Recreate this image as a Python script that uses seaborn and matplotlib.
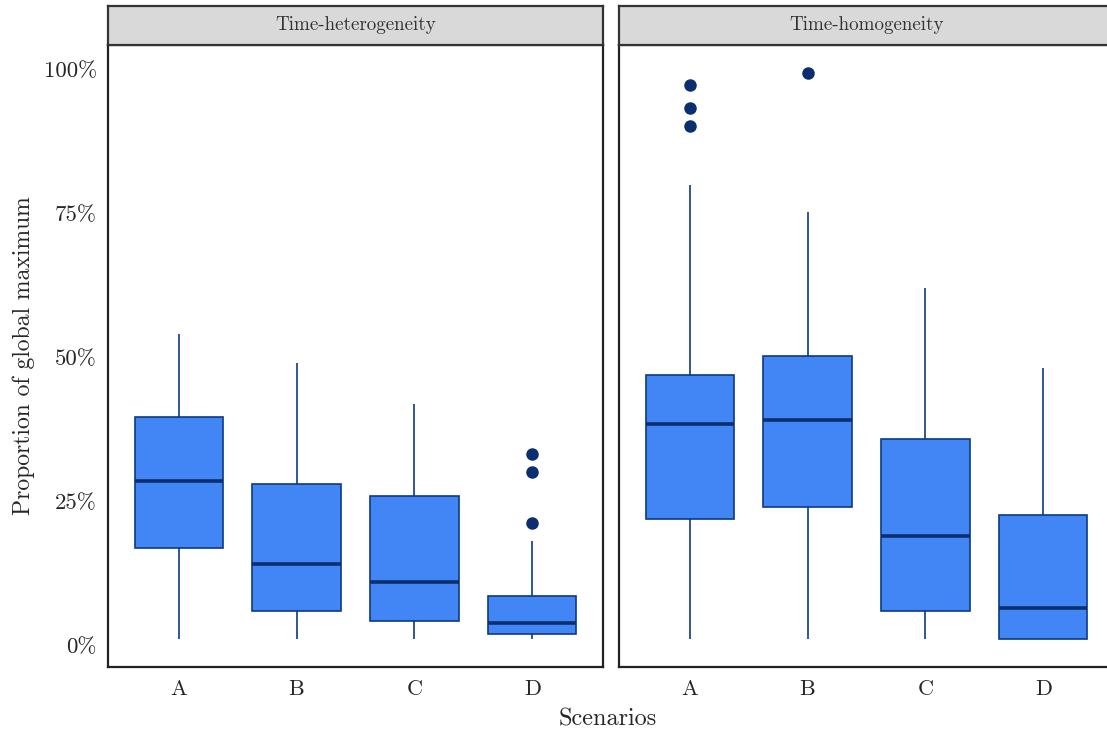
import matplotlib
matplotlib.use("Agg")
import matplotlib.pyplot as plt
import seaborn as sns
import pandas as pd

# Box summaries (percent of global maximum)
scenarios = ["A", "B", "C", "D"]
panels = ["Time-heterogeneity", "Time-homogeneity"]

het_low = [1.2, 1.2, 1.2, 1.2]
het_q1 = [17.0, 6.1, 4.3, 2.1]
het_med = [28.5, 14.1, 11.1, 4.0]
het_q3 = [39.6, 28.0, 25.9, 8.7]
het_high = [54.0, 49.1, 42.0, 18.1]
het_out = [[], [], [], [21.2, 30.2, 33.2]]

hom_low = [1.2, 1.2, 1.2, 1.2]
hom_q1 = [22.0, 24.1, 6.1, 1.2]
hom_med = [38.5, 39.1, 19.1, 6.6]
hom_q3 = [46.9, 50.2, 35.9, 22.6]
hom_high = [80.0, 75.2, 62.0, 48.1]
hom_out = [[90.1, 93.2, 97.2], [99.3], [], []]

fill = "#4285F4"
edge = "#0D3A84"
dark = "#0B2F6E"


def box_rows(panel, low, q1, med, q3, high, out):
    # 17 sorted values per box: quartiles land exactly on indices 4, 8, 12
    rows = []
    for i, s in enumerate(scenarios):
        top = [high[i]] * (4 - len(out[i])) + out[i]
        vals = [low[i]] + [q1[i]] * 4 + [med[i]] * 4 + [q3[i]] * 4 + top
        rows += [(panel, s, v) for v in vals]
    return rows


rows = box_rows(panels[0], het_low, het_q1, het_med, het_q3, het_high, het_out)
rows += box_rows(panels[1], hom_low, hom_q1, hom_med, hom_q3, hom_high, hom_out)
df = pd.DataFrame(rows, columns=["panel", "scenario", "value"])

sns.set_style("white")
plt.rcParams["font.family"] = ["cmr10", "DejaVu Serif"]
plt.rcParams["axes.formatter.use_mathtext"] = True
plt.rcParams["mathtext.fontset"] = "cm"

W, H = 1107, 732
fig = plt.figure(figsize=(W / 100, H / 100), dpi=100)

# second panel runs past the right edge, as in the reference
panel_x = [(108, 603), (619, 1114)]
top_px, bot_px, strip_top = 45, 667, 6

for k, (name, (x0, x1)) in enumerate(zip(panels, panel_x)):
    ax = fig.add_axes([x0 / W, 1 - bot_px / H, (x1 - x0) / W, (bot_px - top_px) / H])
    sub = df[df["panel"] == name]
    sns.boxplot(data=sub, x="scenario", y="value", order=scenarios, ax=ax,
                width=0.75, color=fill, saturation=1, linewidth=1.2,
                linecolor=edge, showcaps=False,
                medianprops=dict(color=dark, linewidth=2.6),
                flierprops=dict(marker="o", markersize=8, markerfacecolor=dark,
                                markeredgecolor=dark))
    ax.set_xlim(-0.6, 3.6)
    ax.set_ylim(-3.7, 104.2)
    ax.set_yticks([0, 25, 50, 75, 100])
    ax.set_xlabel("")
    ax.set_ylabel("")
    for sp in ax.spines.values():
        sp.set_visible(True)
        sp.set_color("#222222")
        sp.set_linewidth(1.6)
    ax.tick_params(axis="x", length=4, color="#AAAAAA", labelsize=16, pad=5)
    if k == 0:
        ax.set_yticklabels([f"{v}%" for v in [0, 25, 50, 75, 100]])
        ax.tick_params(axis="y", length=4, color="#AAAAAA", labelsize=16.5, pad=4)
        ax.set_ylabel("Proportion of global maximum", fontsize=17, labelpad=6)
    else:
        ax.tick_params(axis="y", left=False, labelleft=False)

    sax = fig.add_axes([x0 / W, 1 - top_px / H, (x1 - x0) / W, (top_px - strip_top) / H])
    sax.set_facecolor("#D9D9D9")
    sax.set_xticks([])
    sax.set_yticks([])
    for sp in sax.spines.values():
        sp.set_color("#333333")
        sp.set_linewidth(1.6)
    sax.text(0.5, 0.5, name, ha="center", va="center", fontsize=13.7,
             color="#333333", transform=sax.transAxes)

fig.text((108 + 1107) / 2 / W, 1 - 719 / H, "Scenarios", ha="center",
         va="center", fontsize=17.5)

fig.savefig("out.png", dpi=100)
